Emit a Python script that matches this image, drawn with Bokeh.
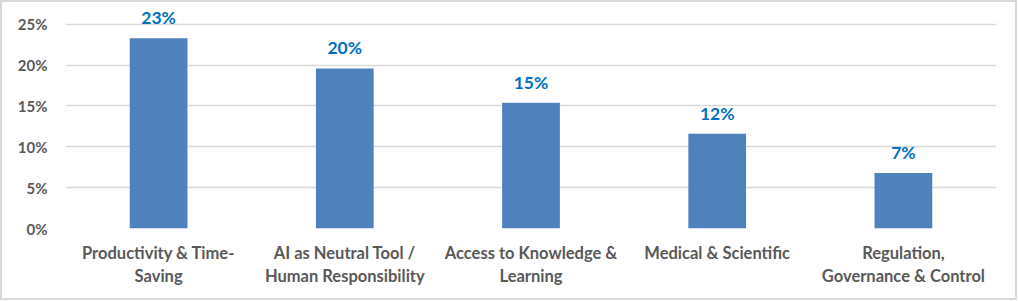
from bokeh.plotting import figure
from bokeh.models import Range1d, FixedTicker, ColumnDataSource, LabelSet, LinearAxis
from bokeh.core.properties import value
from bokeh.embed import file_html
from bokeh.resources import INLINE

categories = ["Productivity & Time-Saving", "AI as Neutral Tool / Human Responsibility",
              "Access to Knowledge & Learning", "Medical & Scientific",
              "Regulation, Governance & Control"]
label_line1 = ["Productivity & Time-", "AI as Neutral Tool /", "Access to Knowledge &",
               "Medical & Scientific", "Regulation,"]
label_line2 = ["Saving", "Human Responsibility", "Learning", "", "Governance & Control"]
values = [23.3, 19.6, 15.4, 11.6, 6.8]
value_labels = ["23%", "20%", "15%", "12%", "7%"]
y_ticks = [0, 5, 10, 15, 20, 25]

pos = list(range(1, len(categories) + 1))
src = ColumnDataSource(dict(x=pos, cat=categories, val=values, lab=value_labels))

W, H, B = 1017, 300, 2
p = figure(width=W, height=H,
           x_range=Range1d(0.5, len(categories) + 0.5), x_axis_location=None,
           y_range=Range1d(0, 27.3), output_backend="svg", toolbar_location=None,
           min_border_left=65 - B, min_border_right=W + B - 996, min_border_top=5 - B,
           min_border_bottom=H + B - 228)
p.styles = {"border": f"{B}px solid #D9D9D9"}
p.outline_line_color = None
p.vbar(x="x", top="val", width=0.31, source=src, color="#4F81BD", line_color=None)

labels = LabelSet(x="x", y="val", text="lab", source=src, y_offset=10,
                  text_align="center", text_baseline="bottom", text_color="#0070C0",
                  text_font=value("Lato"), text_font_style="bold", text_font_size="17.5px")
p.add_layout(labels)

ax1 = LinearAxis(ticker=FixedTicker(ticks=pos),
                 major_label_overrides=dict(zip(pos, label_line1)),
                 major_label_standoff=8)
ax2 = LinearAxis(ticker=FixedTicker(ticks=pos),
                 major_label_overrides=dict(zip(pos, label_line2)),
                 major_label_standoff=-6)
p.add_layout(ax1, "below")
p.add_layout(ax2, "below")

p.yaxis.ticker = FixedTicker(ticks=y_ticks)
p.yaxis.major_label_overrides = {t: f"{t}%" for t in y_ticks}

for ax in (ax1, ax2, p.yaxis[0]):
    ax.axis_line_color = None
    ax.major_tick_line_color = None
    ax.minor_tick_line_color = None
    ax.major_label_text_color = "#595959"
    ax.major_label_text_font = "Lato"
    ax.major_label_text_font_style = "bold"
    ax.major_label_text_font_size = "16.5px"
p.yaxis.major_label_text_font_size = "15px"
p.yaxis.major_label_standoff = 12
p.xgrid.grid_line_color = None
p.ygrid.grid_line_color = "#D9D9D9"
p.ygrid.grid_line_width = 1.5
p.ygrid.ticker = FixedTicker(ticks=y_ticks)

open("out.html", "w").write(file_html(p, INLINE))
